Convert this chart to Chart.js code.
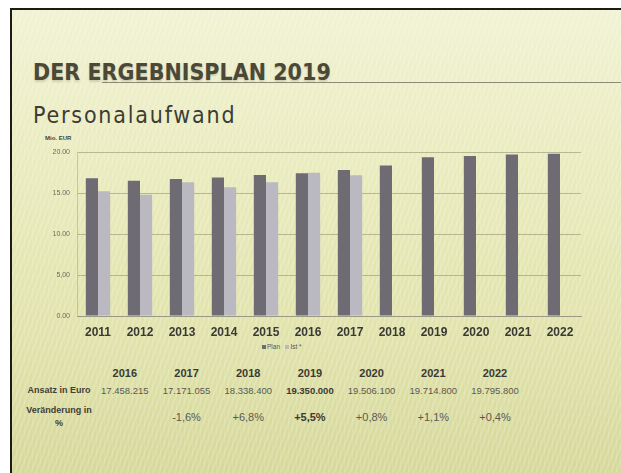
<!DOCTYPE html>
<html>
<head>
<meta charset="utf-8">
<script src="https://cdn.jsdelivr.net/npm/chart.js@4"></script>
<style>
  html, body { margin: 0; padding: 0; background: #fff; }
  body { width: 621px; height: 473px; position: relative; overflow: hidden; font-family: "Liberation Sans", Arial, sans-serif; }
  #slide {
    position: absolute; left: 10px; top: 8px; width: 611px; height: 463px;
    border-left: 2px solid #1c1c14; border-top: 2px solid #1c1c14; border-bottom: 2px solid #2a2a1c;
    background:
      repeating-linear-gradient(90deg, rgba(255,255,255,0.10) 0 1px, rgba(255,255,255,0) 1px 4px),
      repeating-linear-gradient(110deg, rgba(255,255,255,0.16) 0 2px, rgba(255,255,255,0) 2px 5px),
      linear-gradient(180deg, #f1f2d2 0%, #eaecbe 30%, #e2e4ac 65%, #d6d898 100%);
  }
  #title { position: absolute; left: 21px; top: 49px; font-family: "DejaVu Sans Condensed", sans-serif; font-weight: bold;
    font-size: 23px; color: #4b4838; white-space: nowrap; text-shadow: 0 2px 2px rgba(120,110,80,0.25); }
  #rule { position: absolute; left: 90px; right: 0; top: 72px; height: 1px; background: #8a8a78; }
  #subtitle { position: absolute; left: 21px; top: 92px; font-family: "DejaVu Sans Condensed", sans-serif;
    font-size: 23px; letter-spacing: 1.8px; color: #3c3c34; white-space: nowrap; }
  #unit { position: absolute; left: 33px; top: 125px; font-size: 6px; color: #444; font-weight: bold; }
  #chartBox { position: absolute; left: 8px; top: 130px; width: 580px; height: 200px; }
  #legend { position: absolute; left: 250px; top: 333px; font-size: 6.5px; color: #555; white-space: nowrap; }
  #legend span.sw { display: inline-block; width: 4px; height: 4px; margin-right: 1px; vertical-align: middle; }
  #table { position: absolute; left: 12px; top: 355px; border-collapse: collapse; }
  #table td { padding: 0; text-align: center; white-space: nowrap; }
  #table td.lab { width: 70px; font-size: 9px; color: #3e3e36; font-weight: bold; line-height: 13px; }
  #table td.col { width: 61.7px; }
  #table tr.head td { font-size: 11px; font-weight: bold; color: #3a3a34; height: 15px; }
  #table tr.amt td.col { font-size: 9.5px; color: #5a5a52; height: 20px; }
  #table tr.chg td { padding-top: 4px; }
  #table tr.chg td.col { font-size: 11px; color: #5a5a52; vertical-align: middle; }
</style>
</head>
<body>
<div id="slide">
  <div id="title">DER ERGEBNISPLAN 2019</div>
  <div id="rule"></div>
  <div id="subtitle">Personalaufwand</div>
  <div id="unit">Mio. EUR</div>
  <div id="chartBox"><canvas id="chart"></canvas></div>
  <div id="legend"><span class="sw" style="background:#6f6b73"></span>Plan &nbsp; <span class="sw" style="background:#bab8c0"></span>Ist *</div>
  <table id="table"></table>
</div>
<script>
const years = ['2011','2012','2013','2014','2015','2016','2017','2018','2019','2020','2021','2022'];
const planValues = [16.8, 16.5, 16.7, 16.9, 17.2, 17.4, 17.8, 18.34, 19.35, 19.51, 19.71, 19.8];
const istValues = [15.2, 14.8, 16.3, 15.7, 16.3, 17.46, 17.17, null, null, null, null, null];
const yTickLabels = ['0.00', '5,00', '10.00', '15.00', '20.00'];

const tableYears = ['2016','2017','2018','2019','2020','2021','2022'];
const tableAmounts = ['17.458.215','17.171.055','18.338.400','19.350.000','19.506.100','19.714.800','19.795.800'];
const tableChanges = ['', '-1,6%', '+6,8%', '+5,5%', '+0,8%', '+1,1%', '+0,4%'];
const boldYear = '2019';

// table below the chart
const table = document.getElementById('table');
let html = '<tr class="head"><td class="lab"></td>';
tableYears.forEach(y => { html += `<td class="col">${y}</td>`; });
html += '</tr><tr class="amt"><td class="lab">Ansatz in Euro</td>';
tableAmounts.forEach((a, i) => {
    html += `<td class="col"${tableYears[i] === boldYear ? ' style="font-weight:bold;color:#3a3a34"' : ''}>${a}</td>`;
});
html += '</tr><tr class="chg"><td class="lab">Veränderung in<br>%</td>';
tableChanges.forEach((c, i) => {
    html += `<td class="col"${tableYears[i] === boldYear ? ' style="font-weight:bold;color:#3a3a34"' : ''}>${c}</td>`;
});
html += '</tr>';
table.innerHTML = html;

const ctx = document.getElementById('chart').getContext('2d');
new Chart(ctx, {
    type: 'bar',
    data: {
        labels: years,
        datasets: [
            { label: 'Plan', data: planValues, backgroundColor: '#6f6b73', categoryPercentage: 0.58, barPercentage: 1 },
            { label: 'Ist *', data: istValues, backgroundColor: '#bab8c0', categoryPercentage: 0.58, barPercentage: 1 }
        ]
    },
    options: {
        responsive: true,
        maintainAspectRatio: false,
        animation: false,
        layout: { padding: { top: 12, right: 19, left: 0, bottom: 0 } },
        plugins: { legend: { display: false }, tooltip: { enabled: false } },
        scales: {
            x: {
                grid: { display: false, drawTicks: false },
                border: { color: '#9a9a84' },
                ticks: { color: '#3a3a34', font: { family: 'Liberation Sans', size: 12, weight: 'bold' }, padding: 9 },
                afterFit: s => { s.height = 24; }
            },
            y: {
                min: 0, max: 20,
                ticks: {
                    stepSize: 5,
                    color: '#6a6a60',
                    font: { family: 'Liberation Sans', size: 7 },
                    padding: 7,
                    callback: (v) => yTickLabels[v / 5]
                },
                grid: { color: 'rgba(140,140,110,0.55)', drawTicks: false },
                border: { color: 'rgba(160,160,130,0.5)' },
                afterFit: s => { s.width = 57; }
            }
        }
    }
});
</script>
</body>
</html>
